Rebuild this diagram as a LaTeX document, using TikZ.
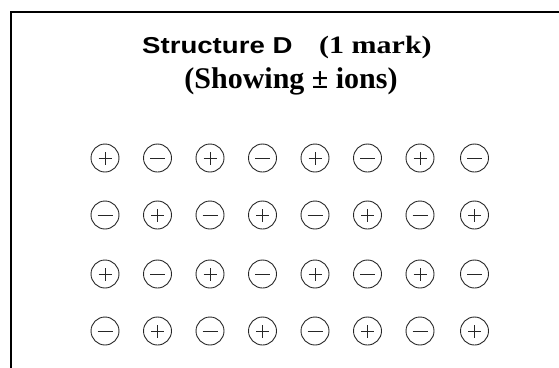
\documentclass[tikz,border=0pt]{standalone}
\usepackage{graphicx}
\usepackage{fontspec}
\setmainfont{Liberation Serif}
\newfontfamily\arialfont{Liberation Sans}
\begin{document}
\begin{tikzpicture}[x=1pt,y=-1pt,
  frame/.style={line width=2.2pt, line cap=rect},
  ion/.style={circle, draw=black!85, line width=0.9pt, minimum size=28pt, inner sep=0pt},
  plusion/.style={ion, path picture={
      \draw[line width=0.8pt, black!85] ([xshift=-6.5pt]path picture bounding box.center) -- ([xshift=6.5pt]path picture bounding box.center);
      \draw[line width=0.8pt, black!85] ([yshift=-6.5pt]path picture bounding box.center) -- ([yshift=6.5pt]path picture bounding box.center);}},
  minusion/.style={ion, path picture={
      \draw[line width=0.8pt, black!85] ([xshift=-7.5pt]path picture bounding box.center) -- ([xshift=7.5pt]path picture bounding box.center);}},
  title/.style={inner sep=0pt}
]
\useasboundingbox (0,0) rectangle (559,367);
\coordinate (fb) at (11,368);
\coordinate (fc) at (11,12);
\coordinate (fr) at (560,12);
\draw[frame] (fb) -- (fc) -- (fr);

\node[title, anchor=base west] (t1a) at (142,53) {\scalebox{1.2}[1]{\arialfont\bfseries\fontsize{23}{26}\selectfont Structure D}};
\node[title, anchor=base west] (t1b) at (319,53) {\scalebox{1.2}[1]{\bfseries\fontsize{25}{28}\selectfont (1 mark)}};
\node[title, anchor=base] (t2) at (291,88) {\bfseries\fontsize{30}{34}\selectfont (Showing \textpm{} ions)};

\foreach \r/\y in {1/158,2/215,3/274,4/331}{
  \foreach \c in {1,...,8}{
    \pgfmathsetmacro{\xx}{105+52.5*(\c-1)+(\c==8)*2}
    \pgfmathtruncatemacro{\s}{mod(\r+\c,2)}
    \ifnum\s=0
      \node[plusion] (ion-\r-\c) at (\xx,\y) {};
    \else
      \node[minusion] (ion-\r-\c) at (\xx,\y) {};
    \fi
  }
}
\end{tikzpicture}
\end{document}
